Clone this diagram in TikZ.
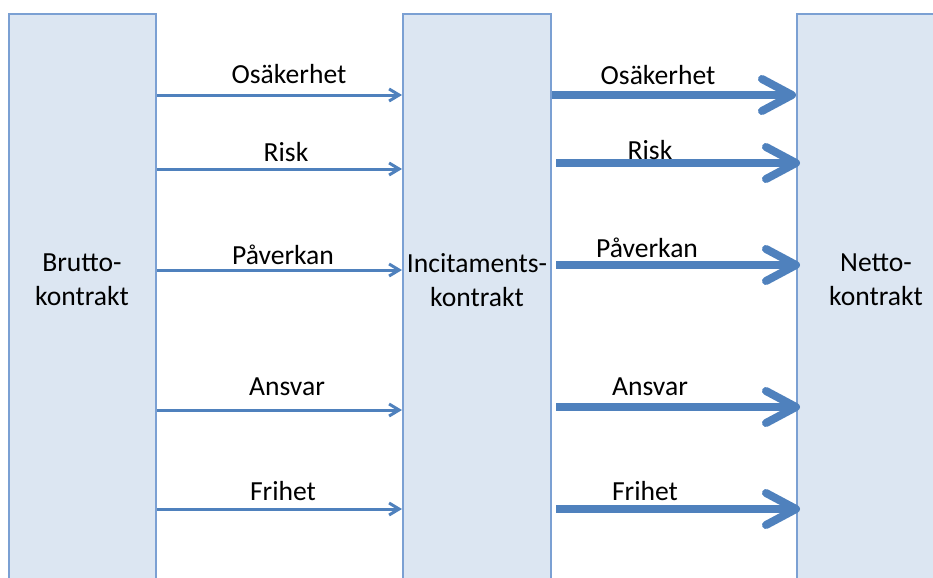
\documentclass[tikz,border=0pt]{standalone}
\usepackage{fontspec}
\setmainfont{Carlito}
\usetikzlibrary{arrows.meta}
\definecolor{boxfill}{HTML}{DCE6F2}
\definecolor{boxline}{HTML}{7BA0D3}
\definecolor{pilblue}{HTML}{4F81BD}
\tikzset{
  kontrakt/.style={draw=boxline, line width=1pt, fill=boxfill, minimum height=303pt, inner sep=0pt},
  boxtext/.style={align=center, inner sep=0pt, font=\fontsize{13.8}{17}\selectfont},
  pil/.style={font=\fontsize{13.8}{17}\selectfont, inner sep=0pt},
  tunnpil/.style={draw=pilblue, line width=1.5pt, -{Straight Barb[length=5pt,width=6pt]}},
  tjockpil/.style={draw=pilblue, line width=4pt, -{Straight Barb[length=15pt,width=16pt,round]}}
}

\begin{document}
\begin{tikzpicture}[x=0.5pt, y=-0.5pt]
\useasboundingbox (0,0) rectangle (933,578);
\clip (0,0) rectangle (933,578);

% the three contract boxes
\node[kontrakt, minimum width=73.5pt] (brutto) at (82.5,317) {};
\node[kontrakt, minimum width=74pt] (incit) at (477,317) {};
\node[kontrakt, minimum width=79pt] (netto) at (876,317) {};

\node[boxtext] (bruttotxt) at (82,280) {Brutto-\\kontrakt};
\node[boxtext] (incittxt) at (477,280) {Incitaments-\\kontrakt};
\node[boxtext] (nettotxt) at (876,280) {Netto-\\kontrakt};

% brutto -> incitament
\foreach \y/\txt/\lx/\ly [count=\i] in {95/Osäkerhet/289/74, 169/Risk/286/152, 270/Påverkan/283/255, 410/Ansvar/287/387, 509/Frihet/283/491}{
  \draw[tunnpil] (brutto.east |- 0,\y) -- (incit.west |- 0,\y);
  \node[pil] (vl\i) at (\lx,\ly) {\txt};
}

% incitament -> netto
\foreach \y/\sx/\txt/\lx/\ly [count=\i] in {95/0/Osäkerhet/658/75, 163/4/Risk/650/150, 265/4/Påverkan/647/248, 407/4/Ansvar/650/387, 509/4/Frihet/645/491}{
  \draw[tjockpil] ([xshift=\sx*0.5pt]incit.east |- 0,\y) -- ([xshift=\sx*0.5pt]netto.west |- 0,\y);
  \node[pil] (hl\i) at (\lx,\ly) {\txt};
}
\end{tikzpicture}
\end{document}
